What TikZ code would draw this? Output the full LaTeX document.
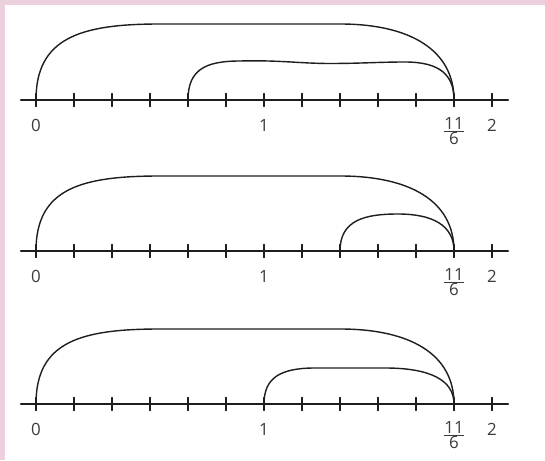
\documentclass[tikz,border=0pt]{standalone}
\usepackage{fontspec}
\setmainfont{Open Sans}
\usepackage{amsmath}
\definecolor{marcorosa}{RGB}{236,208,221}
\definecolor{trazo}{RGB}{30,30,30}
\definecolor{rotulo}{RGB}{60,60,60}

\begin{document}
\begin{tikzpicture}[x=0.025cm,y=0.025cm,line cap=round,line join=round,
        eje/.style={trazo,line width=1.5pt},
        marca/.style={trazo,line width=0.9pt},
        arco/.style={trazo,line width=1pt},
        rotulo/.style={text=rotulo,font=\fontsize{12}{14}\selectfont,inner sep=0pt}]
        % Marco rosa y fondo
        \fill[marcorosa] (0,0) rectangle (545,460);
        \fill[white] (5,0) rectangle (545,455);
        \useasboundingbox (0,0) rectangle (545,460);

        % Tres rectas numericas de 0 a 2 en sextos
        \foreach \l/\y in {1/360,2/209,3/56} {
            \coordinate (ini\l) at (21,\y);
            \coordinate (fin\l) at (508,\y);
            \draw[eje] (ini\l) -- (fin\l);
            \foreach \k in {0,...,12} {
                \coordinate (m\l-\k) at ({36+38*\k},\y);
                \draw[marca] (m\l-\k) ++(0,6.5) -- ++(0,-13);
            }
            \node[rotulo] (c\l-0) at (36,\y-25) {0};
            \node[rotulo] (c\l-1) at (264,\y-25) {1};
            \node[rotulo] (c\l-f) at (454,\y-31) {$\frac{\mbox{11}}{\mbox{6}}$};
            \node[rotulo] (c\l-2) at (492,\y-25) {2};
        }

        % Primera recta: de 0 y de 4/6 hasta 11/6
        \draw[arco] (m1-0) .. controls +(0,62) and +(-80,0) .. (160,436) -- (340,436)
            .. controls +(70,0) and +(0,50) .. (m1-11);
        \draw[arco] (m1-4) .. controls +(0,30) and +(-35,0) .. (240,399)
            .. controls +(40,1) and +(-30,0) .. (330,396.5)
            .. controls +(30,0) and +(-25,0) .. (405,398)
            .. controls +(35,0) and +(0,25) .. (m1-11);

        % Segunda recta: de 0 y de 8/6 hasta 11/6
        \draw[arco] (m2-0) .. controls +(0,62) and +(-80,0) .. (160,284) -- (340,284)
            .. controls +(70,0) and +(0,50) .. (m2-11);
        \draw[arco] (m2-8) .. controls +(0,31) and +(-33,0) .. (398,246)
            .. controls +(34,0) and +(0,26) .. (m2-11);

        % Tercera recta: de 0 y de 1 hasta 11/6
        \draw[arco] (m3-0) .. controls +(0,62) and +(-80,0) .. (160,131) -- (340,131)
            .. controls +(70,0) and +(0,50) .. (m3-11);
        \draw[arco] (m3-6) .. controls +(0,26) and +(-35,0) .. (315,92) -- (385,92)
            .. controls +(45,0) and +(0,24) .. (m3-11);
\end{tikzpicture}
\end{document}
